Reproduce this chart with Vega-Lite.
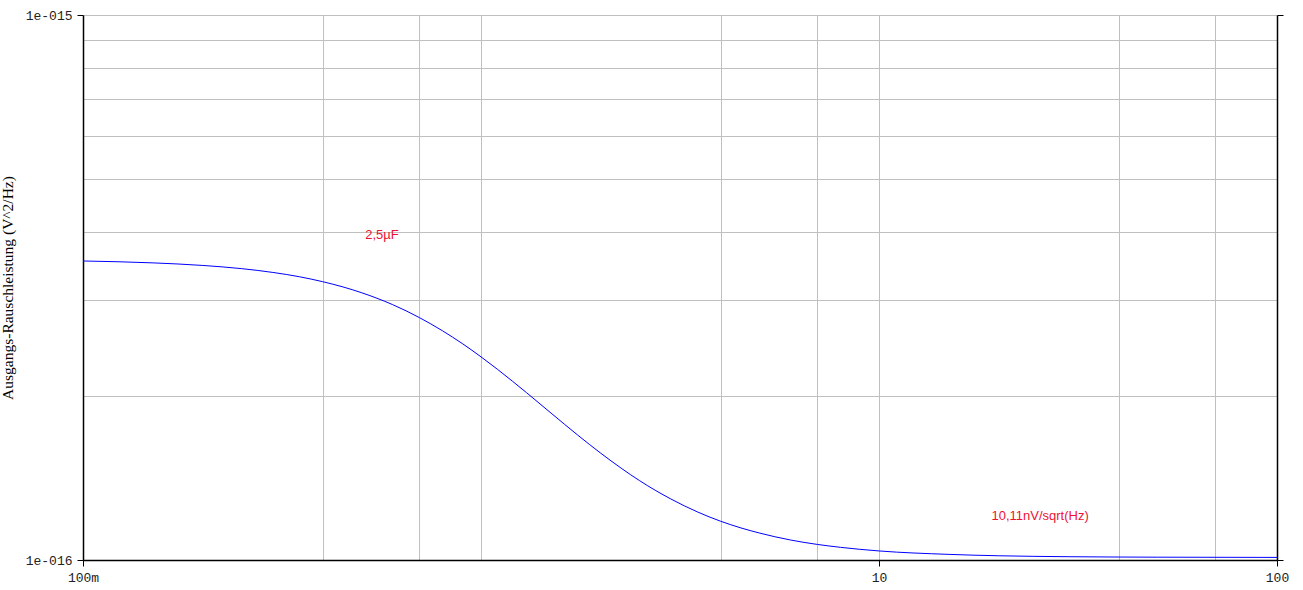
{
  "$schema": "https://vega.github.io/schema/vega-lite/v6.json",
  "width": 1194,
  "height": 545,
  "autosize": {"type": "none"},
  "padding": {"left": 83, "top": 15, "right": 26, "bottom": 30},
  "background": "white",
  "config": {"view": {"stroke": null}},
  "datasets": {
    "curve": [
      {"f": 0.1, "p": 3.537}, {"f": 0.15, "p": 3.509}, {"f": 0.2, "p": 3.471},
      {"f": 0.25, "p": 3.425}, {"f": 0.3, "p": 3.370}, {"f": 0.35, "p": 3.309},
      {"f": 0.4, "p": 3.241}, {"f": 0.45, "p": 3.170}, {"f": 0.5, "p": 3.095},
      {"f": 0.6, "p": 2.941}, {"f": 0.7, "p": 2.785}, {"f": 0.8, "p": 2.634},
      {"f": 0.9, "p": 2.492}, {"f": 1.0, "p": 2.359}, {"f": 1.1, "p": 2.238},
      {"f": 1.2, "p": 2.128}, {"f": 1.3, "p": 2.029}, {"f": 1.5, "p": 1.860},
      {"f": 1.75, "p": 1.695}, {"f": 2.0, "p": 1.570}, {"f": 2.25, "p": 1.474},
      {"f": 2.5, "p": 1.399}, {"f": 3.0, "p": 1.294}, {"f": 3.5, "p": 1.225},
      {"f": 4.0, "p": 1.178}, {"f": 4.5, "p": 1.145}, {"f": 5.0, "p": 1.121},
      {"f": 6.0, "p": 1.088}, {"f": 7.0, "p": 1.068}, {"f": 8.0, "p": 1.055},
      {"f": 10.0, "p": 1.039}, {"f": 15.0, "p": 1.024}, {"f": 20.0, "p": 1.018},
      {"f": 30.0, "p": 1.014}, {"f": 50.0, "p": 1.012}, {"f": 100.0, "p": 1.011}
    ],
    "notes": [
      {"f": 0.564, "p": 3.948, "label": "2,5µF"},
      {"f": 25.4, "p": 1.204, "label": "10,11nV/sqrt(Hz)"}
    ]
  },
  "layer": [
    {
      "data": {"name": "curve"},
      "mark": {"type": "line", "color": "#0000ff", "strokeWidth": 1, "interpolate": "monotone", "clip": true},
      "encoding": {
        "x": {
          "field": "f", "type": "quantitative",
          "scale": {"type": "log", "domain": [0.1, 100], "nice": false},
          "axis": {
            "orient": "bottom",
            "title": null,
            "values": [0.1, 0.4, 0.7, 1, 4, 7, 10, 40, 70, 100],
            "grid": true, "gridColor": "#c0c0c0", "gridWidth": 1, "gridOpacity": 1,
            "domain": true, "domainColor": "#000000", "domainWidth": 1.5,
            "ticks": true, "tickColor": "#000000", "tickSize": 6, "tickWidth": 1,
            "tickOpacity": {"condition": {"test": "datum.value < 0.15 || (datum.value > 9 && datum.value < 11) || datum.value > 90", "value": 1}, "value": 0},
            "labelExpr": "datum.value < 0.15 ? '100m' : (datum.value > 9 && datum.value < 11) ? '10' : datum.value > 90 ? '100' : ''",
            "labelFont": "Liberation Mono", "labelFontSize": 13, "labelColor": "#222222",
            "labelPadding": 5, "labelOverlap": false, "labelFlush": false
          }
        },
        "y": {
          "field": "p", "type": "quantitative",
          "scale": {"type": "log", "domain": [1, 10], "nice": false},
          "axis": {
            "orient": "left",
            "title": "Ausgangs-Rauschleistung (V^2/Hz)",
            "titleFont": "Liberation Serif", "titleFontSize": 15.5, "titleFontWeight": "normal", "titleColor": "#000000",
            "titlePadding": 10,
            "values": [1, 2, 3, 4, 5, 6, 7, 8, 9, 10],
            "grid": true, "gridColor": "#c0c0c0", "gridWidth": 1, "gridOpacity": 1,
            "domain": true, "domainColor": "#000000", "domainWidth": 1.5,
            "ticks": true, "tickColor": "#000000", "tickSize": 6, "tickWidth": 1,
            "tickOpacity": {"condition": {"test": "datum.value < 1.5 || datum.value > 9.5", "value": 1}, "value": 0},
            "labelExpr": "datum.value < 1.5 ? '1e-016' : datum.value > 9.5 ? '1e-015' : ''",
            "labelFont": "Liberation Mono", "labelFontSize": 13, "labelColor": "#222222",
            "labelPadding": 5, "labelOverlap": false, "labelFlush": false, "labelBaseline": "middle"
          }
        }
      }
    },
    {
      "data": {"name": "notes"},
      "mark": {"type": "text", "font": "Liberation Sans", "fontSize": 13, "color": "#ee1133", "align": "center", "baseline": "middle"},
      "encoding": {
        "x": {"field": "f", "type": "quantitative", "axis": null},
        "y": {
          "field": "p", "type": "quantitative",
          "axis": {
            "orient": "right", "title": null,
            "values": [1, 10],
            "grid": false, "labels": false,
            "domain": true, "domainColor": "#000000", "domainWidth": 1.5,
            "ticks": true, "tickColor": "#000000", "tickSize": 6, "tickWidth": 1
          }
        },
        "text": {"field": "label"}
      }
    }
  ],
  "resolve": {"axis": {"x": "independent", "y": "independent"}}
}
